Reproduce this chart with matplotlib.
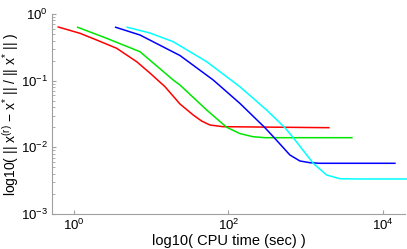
import matplotlib
matplotlib.use("Agg")
import matplotlib.pyplot as plt
import matplotlib.ticker as mticker
import numpy as np

plt.rcParams['font.family'] = ['Liberation Sans', 'DejaVu Sans']
plt.rcParams['mathtext.fontset'] = 'custom'
plt.rcParams['mathtext.rm'] = 'Liberation Sans'
plt.rcParams['mathtext.it'] = 'Liberation Sans'
plt.rcParams['mathtext.default'] = 'regular'

# Data: CPU time (sec) vs relative error
red_t = [0.626, 1.196, 1.968, 3.57, 6.49, 9.64, 15.1, 23.6, 35.1, 45.1, 57.8, 85.1, 2010]
red_e = [0.638, 0.513, 0.407, 0.306, 0.1925, 0.130, 0.0812, 0.0447, 0.0305, 0.0248, 0.0216, 0.0204, 0.0197]

green_t = [1.117, 2.65, 7.16, 19.3, 23.6, 52.4, 95.1, 141, 208, 298, 3990]
green_e = [0.632, 0.432, 0.272, 0.1023, 0.0861, 0.0363, 0.0200, 0.0161, 0.01443, 0.01395, 0.01395]

blue_t = [3.47, 7.16, 23.6, 63.7, 141, 298, 393, 628, 846, 1140, 1537, 14400]
blue_e = [0.632, 0.484, 0.2385, 0.1023, 0.0457, 0.0197, 0.01395, 0.00767, 0.00624, 0.00588, 0.00576, 0.00576]

cyan_t = [4.90, 9.64, 19.3, 52.4, 141, 313, 541, 693, 1259, 1875, 2790, 5070, 20560]
cyan_e = [0.632, 0.519, 0.384, 0.1925, 0.0812, 0.0363, 0.0197, 0.01395, 0.00576, 0.00385, 0.00338, 0.00335, 0.00335]

fig = plt.figure(figsize=(4.07, 2.49), dpi=100)
ax = fig.add_axes([0.1278, 0.1406, 0.867, 0.8032])

lw = 1.1
ax.plot(red_t, red_e, color='#ff0000', lw=lw)
ax.plot(green_t, green_e, color='#00e600', lw=lw)
ax.plot(blue_t, blue_e, color='#0000ff', lw=lw)
ax.plot(cyan_t, cyan_e, color='#00ffff', lw=lw, clip_on=False)

ax.set_xscale('log')
ax.set_yscale('log')
ax.set_xlim(0.519, 1.94e4)
ax.set_ylim(1e-3, 1)

ax.xaxis.set_major_locator(mticker.FixedLocator([1, 1e2, 1e4]))
ax.xaxis.set_minor_locator(mticker.NullLocator())
ax.yaxis.set_major_locator(mticker.LogLocator(base=10, numticks=10))
ax.yaxis.set_minor_locator(mticker.LogLocator(base=10, subs=np.arange(2, 10), numticks=20))

for s in ['top', 'right']:
    ax.spines[s].set_visible(False)
for s in ['left', 'bottom']:
    ax.spines[s].set_color('#a0a0a0')
    ax.spines[s].set_linewidth(0.8)

ax.tick_params(which='both', direction='in', color='#a0a0a0', labelsize=9.5, labelcolor='black')
ax.tick_params(which='major', length=3)
ax.tick_params(which='minor', length=1.8)
ax.tick_params(axis='x', pad=3)
ax.tick_params(axis='y', pad=3)

ax.set_xlabel('log10( CPU time (sec) )', fontsize=10.5, labelpad=0.5)
ax.set_ylabel('log10( || x$^{(r)}$ \u2212 x$^{*}$ || / || x$^{*}$ || )', fontsize=10, labelpad=0)

fig.savefig('out.png', dpi=100)
